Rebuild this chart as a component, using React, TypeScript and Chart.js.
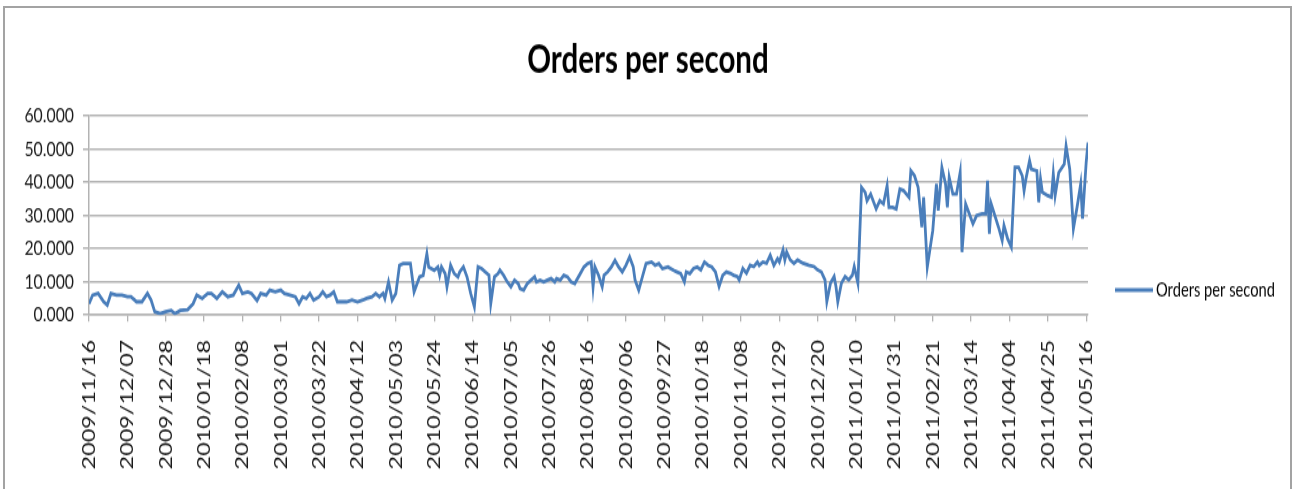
import React, { useEffect, useRef } from "react";
import { Chart, registerables } from "chart.js";

Chart.register(...registerables);

const chartTitle = "Orders per second";
const seriesName = "Orders per second";

// x-axis tick labels (every 21 days starting 2009/11/16)
const tickLabels = [
  "2009/11/16", "2009/12/07", "2009/12/28", "2010/01/18", "2010/02/08", "2010/03/01",
  "2010/03/22", "2010/04/12", "2010/05/03", "2010/05/24", "2010/06/14", "2010/07/05",
  "2010/07/26", "2010/08/16", "2010/09/06", "2010/09/27", "2010/10/18", "2010/11/08",
  "2010/11/29", "2010/12/20", "2011/01/10", "2011/01/31", "2011/02/21", "2011/03/14",
  "2011/04/04", "2011/04/25", "2011/05/16",
];
const tickIntervalDays = 21;
const lastDay = 547;

// day offsets since 2009/11/16
const days = [
  0, 2, 5, 8, 10, 12, 15, 18, 21, 23, 26, 29, 32, 34, 36, 39, 42, 45, 47, 50,
  54, 57, 59, 62, 65, 67, 70, 73, 76, 79, 82, 84, 87, 89, 92, 94, 97, 99, 102, 105,
  107, 110, 113, 115, 117, 119, 121, 123, 126, 128, 130, 132, 134, 136, 139, 141, 144, 147, 150, 152,
  155, 157, 159, 161, 162, 164, 166, 168, 170,
  172, 176, 178, 181, 183, 185, 186, 189, 191, 192, 193, 195, 196, 198, 200, 202, 203, 205, 207, 209,
  211, 213, 215, 218, 219, 220, 222, 224, 225, 227, 229, 231, 233, 235, 236, 238, 240, 242, 244, 245,
  247, 249, 251, 253, 255, 256, 258, 260, 262, 264, 266, 267, 269, 271, 273, 275, 276, 277, 279, 281,
  282, 284, 286, 288, 290, 292, 294, 296, 298, 299, 301, 303, 305, 308, 310, 312, 314, 317, 320, 322,
  324, 326, 327, 329, 331, 333, 335, 337, 339, 341, 343, 345, 347, 349, 351, 353, 355, 356, 358, 360,
  362, 364, 366, 367, 369, 371, 373, 375, 377, 378, 380, 381, 382, 384, 386, 388, 391, 394, 397, 399,
  401, 403, 404, 406, 408, 409, 410, 412, 414, 416, 418, 419, 421,
  423, 425, 426, 428, 431, 433, 435, 437, 438, 440, 442, 444, 446, 449, 450, 452, 454, 456, 457, 459,
  462, 464, 465, 467, 469, 470, 471, 473, 475, 477, 478, 480, 482, 484, 486, 489, 491, 492, 493, 494,
  496, 498, 500, 501, 503, 505, 507, 509, 511, 512, 513, 515, 516, 519, 520, 521, 522, 525, 527, 528,
  529, 531, 534, 535, 537, 539, 541, 543, 544, 546, 547,
];

const ordersPerSecond = [
  3.4, 6, 6.5, 4, 3, 6.5, 6, 6, 5.5, 5.5, 4, 4, 6.5, 4.5, 1, 0.4, 1, 1.4, 0.4, 1.4,
  1.6, 3.4, 6, 5, 6.5, 6.5, 5, 7, 5.5, 6, 9, 6.5, 7, 6.5, 4.4, 6.5, 6, 7.5, 7, 7.5,
  6.5, 6, 5.5, 3.4, 5.5, 5, 6.5, 4.5, 5.5, 7, 5.5, 6, 7, 4, 4, 4, 4.5, 4, 4.5, 5,
  5.5, 6.5, 5.5, 6.5, 5, 10, 4.5, 6.5, 15,
  15.5, 15.5, 7, 11.5, 12, 18.5, 14.5, 13.5, 14.5, 12, 14.5, 12.5, 8.5, 15, 12.5, 11.5, 13, 14.5, 11.5, 6.5,
  2.5, 14.5, 14, 12.5, 12, 3.5, 11.5, 12.5, 13.5, 12, 10, 8.5, 10.5, 9.5, 8, 7.5, 9.5, 10.5, 11.5, 10,
  10.5, 10, 10.5, 11, 10, 11, 10.5, 12, 11.5, 10, 9.5, 10.5, 12.5, 14.5, 15.5, 16, 8.5, 14.5, 12, 8.5,
  12, 13, 14.5, 16.5, 14.5, 13, 15, 17.5, 14.5, 10.5, 7.5, 11.5, 15.5, 16, 15, 15.5, 14, 14.5, 13.5, 13,
  12.5, 10, 13, 12.5, 14, 14.5, 13.6, 16, 15, 14.5, 13, 8.6, 12, 13, 12.6, 12, 11.6, 10.6, 14, 12.6,
  15, 14.6, 16, 15, 16, 15.6, 18, 15, 17, 16, 19.6, 16.6, 19, 16.6, 15.6, 16.6, 15.6, 15, 14.6, 13.6,
  13, 10.6, 4, 9.6, 11.6, 8.6, 4, 9.6, 11.6, 10.6, 12, 14.6, 9.6,
  38.5, 37, 34.5, 36.5, 32, 34.5, 33.5, 39, 32.5, 32.5, 32, 38, 37.5, 35.5, 43.5, 42, 38.5, 26.5, 35.5, 14.5,
  25.5, 39.5, 31.5, 44.5, 39.5, 32.5, 41.5, 36.5, 36.5, 43, 19, 33.5, 30.5, 27.5, 30, 30.5, 30.5, 40.5, 24.5, 33.5,
  30, 26.5, 22.5, 27, 23, 20.5, 44.5, 44.5, 42, 37.5, 41, 46.5, 44, 43.5, 34, 41, 37, 36, 35.5, 42.5,
  36, 43, 45.5, 51, 44, 26, 32.5, 39.5, 29, 46, 52,
];

const yTickValues = [0, 10, 20, 30, 40, 50, 60];

// layout (page pixels); the drawing is stretched vertically like the reference
const PAGE_W = 1295;
const PAGE_H = 489;
const INNER_H = 376;
const S = PAGE_H / INNER_H;
const PLOT_LEFT = 89;
const PLOT_RIGHT = 1088;
const PLOT_TOP = 116 / S;
const PLOT_BOTTOM = 315 / S;

const LINE_COLOR = "#4a7ebb";
const GRID_COLOR = "#b3b3b3";
const TEXT_COLOR = "#1a1a1a";
const FONT = "Lato, 'Liberation Sans', sans-serif";

const overlayPlugin = {
  id: "overlay",
  afterDraw(chart: any) {
    const ctx = chart.ctx as CanvasRenderingContext2D;
    ctx.save();
    // title
    ctx.fillStyle = "#000";
    ctx.font = `bold 29.5px ${FONT}`;
    ctx.textAlign = "center";
    ctx.textBaseline = "alphabetic";
    ctx.fillText(chartTitle, 648, 73 / S);
    // legend
    const ly = 290 / S;
    ctx.strokeStyle = LINE_COLOR;
    ctx.lineWidth = 2.8;
    ctx.beginPath();
    ctx.moveTo(1115, ly);
    ctx.lineTo(1153, ly);
    ctx.stroke();
    ctx.fillStyle = "#000";
    ctx.font = `14.7px ${FONT}`;
    ctx.textAlign = "left";
    ctx.textBaseline = "middle";
    ctx.fillText(seriesName, 1156, ly);
    ctx.restore();
  },
};

export default function App() {
  const canvasRef = useRef<HTMLCanvasElement>(null);

  useEffect(() => {
    const canvas = canvasRef.current;
    if (!canvas) return;
    const chart = new Chart(canvas, {
      type: "line",
      data: {
        datasets: [
          {
            label: seriesName,
            data: days.map((d, i) => ({ x: d, y: ordersPerSecond[i] })),
            borderColor: LINE_COLOR,
            backgroundColor: LINE_COLOR,
            borderWidth: 2.8,
            pointRadius: 0,
            tension: 0,
            fill: false,
          },
        ],
      },
      options: {
        animation: false,
        responsive: true,
        maintainAspectRatio: false,
        layout: {
          padding: { top: PLOT_TOP, right: PAGE_W - PLOT_RIGHT, left: 0, bottom: 0 },
        },
        plugins: {
          legend: { display: false },
          title: { display: false },
          tooltip: { enabled: false },
        },
        scales: {
          x: {
            type: "linear",
            min: 0,
            max: lastDay,
            afterFit: (s: any) => {
              s.height = INNER_H - PLOT_BOTTOM;
            },
            afterBuildTicks: (s: any) => {
              s.ticks = tickLabels.map((_, i) => ({ value: i * tickIntervalDays }));
            },
            ticks: {
              autoSkip: false,
              minRotation: 90,
              maxRotation: 90,
              padding: 14,
              color: TEXT_COLOR,
              font: { family: FONT, size: 18 },
              callback: (v: any) => tickLabels[Math.round(Number(v) / tickIntervalDays)] ?? "",
            },
            grid: {
              drawOnChartArea: false,
              drawTicks: true,
              tickLength: 5,
              color: GRID_COLOR,
              lineWidth: 1.3,
            },
            border: { display: true, color: GRID_COLOR, width: 1.5 },
          },
          y: {
            min: 0,
            max: 60,
            afterFit: (s: any) => {
              s.width = PLOT_LEFT;
            },
            afterBuildTicks: (s: any) => {
              s.ticks = yTickValues.map((v) => ({ value: v }));
            },
            ticks: {
              padding: 9,
              color: TEXT_COLOR,
              font: { family: FONT, size: 15.8 },
              callback: (v: any) => Number(v).toFixed(3),
            },
            grid: { color: GRID_COLOR, lineWidth: 1.5, tickLength: 6 },
            border: { display: true, color: GRID_COLOR, width: 1.5 },
          },
        },
      },
      plugins: [overlayPlugin],
    });
    return () => chart.destroy();
  }, []);

  return (
    <div
      style={{
        position: "absolute",
        left: 0,
        top: 0,
        width: PAGE_W,
        height: PAGE_H,
        overflow: "hidden",
        background: "#fff",
      }}
    >
      <div
        style={{
          position: "absolute",
          left: 0,
          top: 0,
          width: PAGE_W,
          height: INNER_H,
          transform: `scaleY(${S})`,
          transformOrigin: "0 0",
        }}
      >
        <canvas ref={canvasRef} />
      </div>
      <div
        style={{
          position: "absolute",
          left: 3,
          top: 6,
          width: 1289,
          height: 500,
          border: "2px solid #a3a3a3",
          boxSizing: "border-box",
          pointerEvents: "none",
        }}
      />
    </div>
  );
}
